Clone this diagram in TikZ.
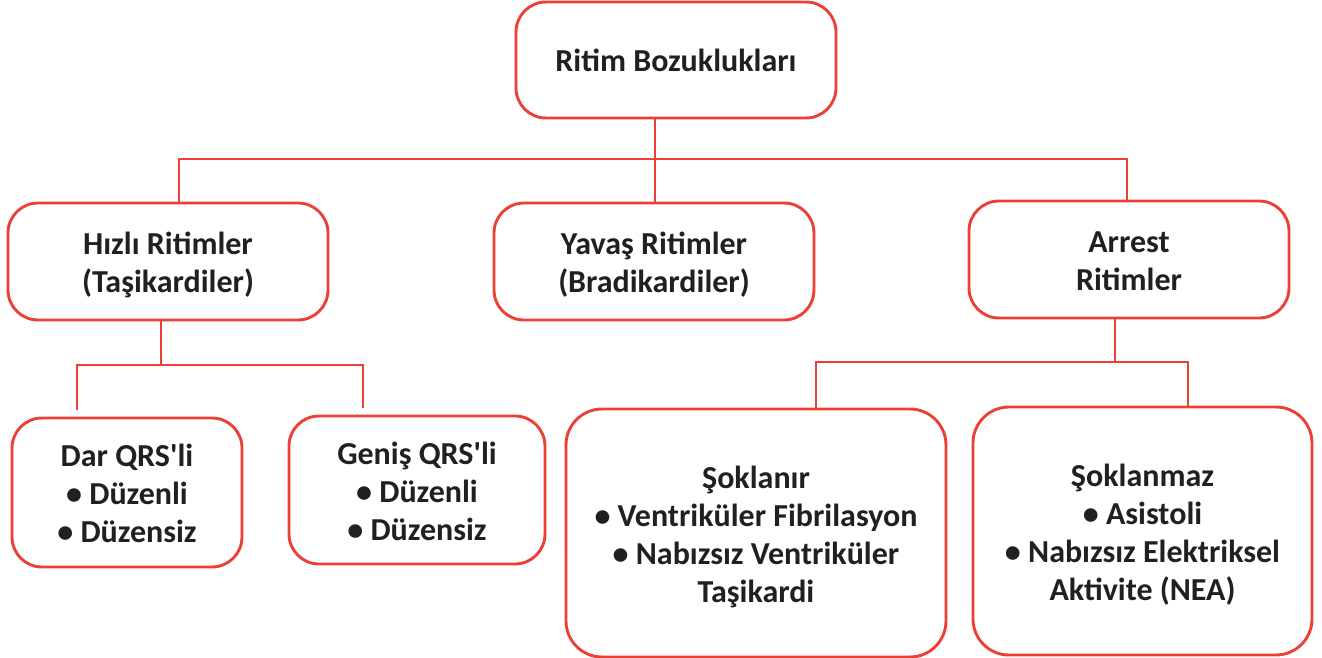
\documentclass[tikz,border=0pt]{standalone}
\usepackage{fontspec}
\setmainfont{Carlito}[Ligatures=TeXOff]
\definecolor{boxred}{RGB}{236,64,55}
\definecolor{textc}{RGB}{35,31,32}
\newcommand\boxtext[1]{\raisebox{-4.4pt}[\height][\depth]{\begin{tabular}{@{}c@{}}#1\end{tabular}}}
\begin{document}
\begin{tikzpicture}[x=1pt,y=-1pt,
  box/.style={draw=boxred, line width=2.9pt, rounded corners=30pt, fill=white,
    inner sep=0pt, text=textc,
    font=\bfseries\fontsize{32}{38}\selectfont},
  bigbox/.style={box, rounded corners=36pt},
  conn/.style={draw=boxred, line width=2.9pt}]
\useasboundingbox (0,0) rectangle (1322,658);
% nodes
\node[box, minimum width=320pt, minimum height=116pt] (root) at (676,60) {\boxtext{Ritim Bozuklukları}};
\node[box, minimum width=320pt, minimum height=117pt] (hizli) at (168,261.5) {\boxtext{Hızlı Ritimler\\(Taşikardiler)}};
\node[box, minimum width=320pt, minimum height=117pt] (yavas) at (654,261.5) {\boxtext{Yavaş Ritimler\\(Bradikardiler)}};
\node[box, minimum width=320pt, minimum height=117pt] (arrest) at (1129,259.5) {\boxtext{Arrest\\Ritimler}};
\node[box, minimum width=230pt, minimum height=149pt] (dar) at (127,492.5) {\boxtext{Dar QRS'li\\• Düzenli\\• Düzensiz}};
\node[box, minimum width=256pt, minimum height=148pt] (genis) at (417,490) {\boxtext{Geniş QRS'li\\• Düzenli\\• Düzensiz}};
\node[bigbox, minimum width=380pt, minimum height=248pt] (sok) at (756,533) {\boxtext{Şoklanır\\• Ventriküler Fibrilasyon\\• Nabızsız Ventriküler\\Taşikardi}};
\node[bigbox, minimum width=339pt, minimum height=248pt] (sokz) at (1142.5,531) {\boxtext{Şoklanmaz\\• Asistoli\\• Nabızsız Elektriksel\\Aktivite (NEA)}};
% junction coordinates
\coordinate (j0) at (655,159);
\coordinate (b1) at (179,159);
\coordinate (b3) at (1127,159);
\coordinate (h0) at (161,365);
\coordinate (hl) at (77,365);
\coordinate (hr) at (363,365);
\coordinate (hle) at (77,410);
\coordinate (hre) at (363,408);
\coordinate (a0) at (1115,362);
\coordinate (al) at (816,362);
\coordinate (ar) at (1188,362);
% connectors
\draw[conn] (root.south -| j0) -- (j0);
\draw[conn] (b1 |- hizli.north) -- (b1) -- (b3) -- (b3 |- arrest.north);
\draw[conn] (j0) -- (j0 |- yavas.north);
\draw[conn] (h0 |- hizli.south) -- (h0);
\draw[conn] (hle) -- (hl) -- (hr) -- (hre);
\draw[conn] (a0 |- arrest.south) -- (a0);
\draw[conn] (al |- sok.north) -- (al) -- (ar) -- (ar |- sokz.north);
\end{tikzpicture}
\end{document}
